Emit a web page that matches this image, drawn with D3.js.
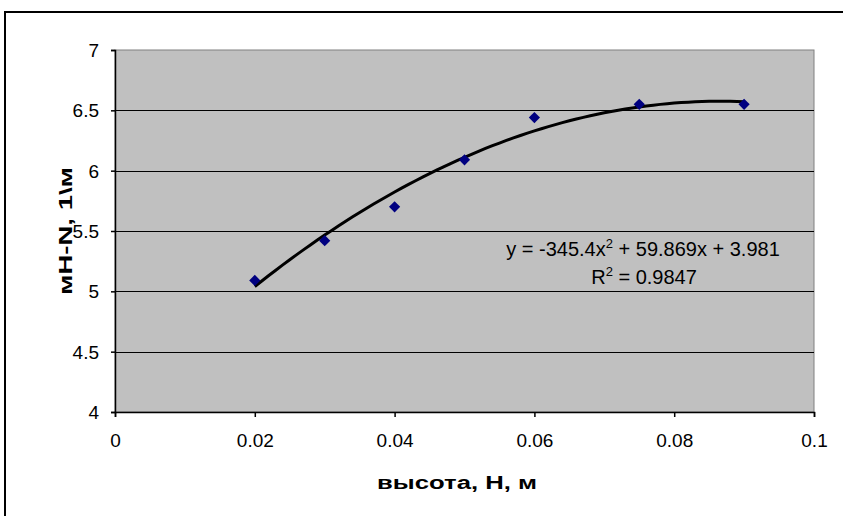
<!DOCTYPE html>
<html>
<head>
    <title>мН-N vs высота</title>
    <style>
        body { margin: 0; background: #fff; }
        svg { font-family: 'Liberation Sans', Arial, sans-serif; }
    </style>
</head>
<body>
    <div id="chart"></div>
    <script src="https://d3js.org/d3.v7.min.js"></script>
    <script>
        // measured points
        const heights = [0.02, 0.03, 0.04, 0.05, 0.06, 0.075, 0.09];
        const values = [5.09, 5.42, 5.70, 6.09, 6.44, 6.55, 6.55];
        const xTicks = [0, 0.02, 0.04, 0.06, 0.08, 0.1];
        const yTicks = [4, 4.5, 5, 5.5, 6, 6.5, 7];
        // polynomial trendline: a*x^2 + b*x + c
        const trendCoef = [-345.4, 59.869, 3.981];
        const trendR2 = 0.9847;

        const [width, height] = [843, 516];
        const margin = {top: 50, right: 29, bottom: 104, left: 115};

        const svg = d3.select("#chart")
                        .append("svg")
                        .attr("width", width)
                        .attr("height", height);

        // outer chart frame
        svg.append("rect")
            .attr("x", 5).attr("y", 12)
            .attr("width", width + 10).attr("height", height + 10)
            .attr("fill", "none")
            .attr("stroke", "#000")
            .attr("stroke-width", 2);

        const x = d3.scaleLinear()
                    .domain([0, 0.1])
                    .range([margin.left, width - margin.right]);

        const y = d3.scaleLinear()
                    .domain([4, 7])
                    .range([height - margin.bottom, margin.top]);

        // plot area
        svg.append("rect")
            .attr("x", x(0)).attr("y", y(7))
            .attr("width", x(0.1) - x(0))
            .attr("height", y(4) - y(7))
            .attr("fill", "#c0c0c0")
            .attr("stroke", "#808080")
            .attr("stroke-width", 1);

        // gridlines
        svg.append("g")
            .selectAll("line")
            .data(yTicks.slice(1, -1))
            .join("line")
            .attr("x1", x(0)).attr("x2", x(0.1))
            .attr("y1", d => Math.round(y(d)) + 0.5)
            .attr("y2", d => Math.round(y(d)) + 0.5)
            .attr("stroke", "#000");

        const y_axis = d3.axisLeft(y)
                        .tickValues(yTicks)
                        .tickFormat(d3.format("~g"))
                        .tickSize(4)
                        .tickPadding(12);

        const x_axis = d3.axisBottom(x)
                        .tickValues(xTicks)
                        .tickFormat(d3.format("~g"))
                        .tickSize(5)
                        .tickPadding(17);

        const gy = svg.append("g")
            .attr("transform", `translate(${x(0)}, 0)`)
            .call(y_axis);

        const gx = svg.append("g")
            .attr("transform", `translate(0, ${y(4)})`)
            .call(x_axis);

        [gx, gy].forEach(g => {
            g.select(".domain").attr("stroke", "#000").attr("stroke-width", 1.5);
            g.selectAll(".tick line").attr("stroke", "#000").attr("stroke-width", 1.5);
            g.selectAll("text")
                .attr("font-size", 19)
                .attr("font-family", "'Liberation Sans', Arial, sans-serif")
                .attr("fill", "#000");
        });
        gy.selectAll("text").attr("dy", "0.35em");

        // trendline
        const poly = t => trendCoef[0] * t * t + trendCoef[1] * t + trendCoef[2];
        const xs = d3.range(heights[0], heights[heights.length - 1] + 1e-9, 0.001);
        svg.append("path")
            .datum(xs)
            .attr("fill", "none")
            .attr("stroke", "#000")
            .attr("stroke-width", 3)
            .attr("d", d3.line().x(d => x(d)).y(d => y(poly(d))));

        // points
        svg.append("g")
            .selectAll("path")
            .data(heights.map((h, i) => [h, values[i]]))
            .join("path")
            .attr("transform", d => `translate(${x(d[0])}, ${y(d[1])})`)
            .attr("d", d3.symbol(d3.symbolDiamond2, 80))
            .attr("fill", "#000080");

        // equation label
        const eq = svg.append("text")
            .attr("x", 643).attr("y", 256)
            .attr("text-anchor", "middle")
            .attr("font-size", 20);
        eq.append("tspan").text(`y = ${trendCoef[0]}x`);
        eq.append("tspan").attr("dy", -8).attr("font-size", 13).text("2");
        eq.append("tspan").attr("dy", 8).text(` + ${trendCoef[1]}x + ${trendCoef[2]}`);

        const r2 = svg.append("text")
            .attr("x", 644).attr("y", 284)
            .attr("text-anchor", "middle")
            .attr("font-size", 20);
        r2.append("tspan").text("R");
        r2.append("tspan").attr("dy", -8).attr("font-size", 13).text("2");
        r2.append("tspan").attr("dy", 8).text(` = ${trendR2}`);

        // axis titles (wide rendering like the original)
        svg.append("text")
            .attr("x", 457).attr("y", 489)
            .attr("text-anchor", "middle")
            .attr("font-size", 18)
            .attr("font-weight", "bold")
            .attr("textLength", 160)
            .attr("lengthAdjust", "spacingAndGlyphs")
            .text("высота, Н, м");

        svg.append("text")
            .attr("transform", `translate(72, ${(y(4) + y(7)) / 2}) rotate(-90)`)
            .attr("text-anchor", "middle")
            .attr("font-size", 18)
            .attr("font-weight", "bold")
            .attr("textLength", 128)
            .attr("lengthAdjust", "spacingAndGlyphs")
            .text("мН-N, 1\\м");
    </script>
</body>
</html>
